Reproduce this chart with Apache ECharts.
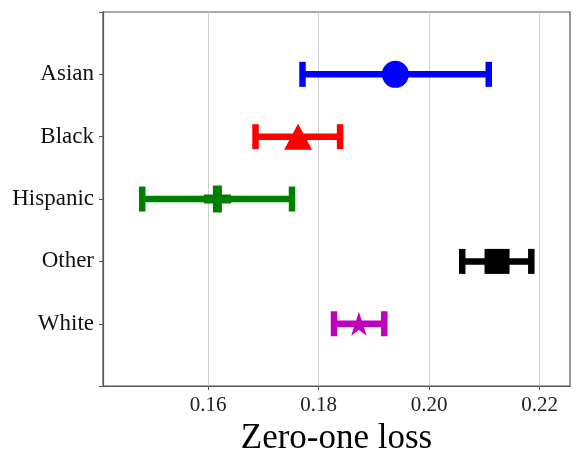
<!DOCTYPE html>
<html><head><meta charset="utf-8">
<script src="https://cdn.jsdelivr.net/npm/echarts@6/dist/echarts.min.js"></script>
<style>html,body{margin:0;padding:0;background:#fff}#c{width:578px;height:461px}</style>
</head><body><div id="c"></div>
<script>
var groups = ['Asian', 'Black', 'Hispanic', 'Other', 'White'];
var means = [0.1939, 0.1763, 0.1617, 0.2123, 0.1873];
var lower = [0.1771, 0.1686, 0.1481, 0.2060, 0.1828];
var upper = [0.2108, 0.1839, 0.1752, 0.2185, 0.1919];
var xTicks = [0.16, 0.18, 0.20, 0.22];
var colors = ['#0000ff', '#ff0000', '#008000', '#000000', '#bf00bf'];

var starPath = 'path://M0,-1L0.224,-0.308L0.951,-0.309L0.362,0.118L0.588,0.809L0,0.381L-0.588,0.809L-0.362,0.118L-0.951,-0.309L-0.224,-0.308Z';
var plusPath = 'path://M-1,-3H1V-1H3V1H1V3H-1V1H-3V-1H-1Z';
var symbols = ['circle', 'triangle', plusPath, 'rect', starPath];
var sizes = [27, [28, 26], 27, 25, [25, 24]];

var chart = echarts.init(document.getElementById('c'));
var errData = groups.map(function (g, i) { return [lower[i], upper[i], i]; });
var series = [{
  type: 'custom',
  data: errData,
  renderItem: function (params, api) {
    var i = api.value(2);
    var p1 = api.coord([api.value(0), i]);
    var p2 = api.coord([api.value(1), i]);
    var h = 12.5;
    var st = { stroke: colors[i], lineWidth: 6.5 };
    return { type: 'group', children: [
      { type: 'line', shape: { x1: p1[0], y1: p1[1], x2: p2[0], y2: p2[1] }, style: st },
      { type: 'line', shape: { x1: p1[0], y1: p1[1] - h, x2: p1[0], y2: p1[1] + h }, style: st },
      { type: 'line', shape: { x1: p2[0], y1: p2[1] - h, x2: p2[0], y2: p2[1] + h }, style: st }
    ]};
  },
  z: 2
}];
groups.forEach(function (g, i) {
  series.push({
    type: 'scatter', data: [[means[i], i]], symbol: symbols[i], symbolSize: sizes[i],
    itemStyle: { color: colors[i], opacity: 1 }, z: 3, silent: true
  });
});

chart.setOption({
  animation: false,
  grid: { left: 103, right: 8, top: 12, bottom: 74, show: true, borderColor: '#555', borderWidth: 1.2, backgroundColor: 'transparent' },
  xAxis: {
    type: 'value', min: 0.141, max: 0.2255,
    name: 'Zero-one loss', nameLocation: 'middle', nameGap: 33,
    nameTextStyle: { fontFamily: 'Liberation Serif', fontSize: 35, color: '#000' },
    axisLine: { show: true, onZero: false, lineStyle: { color: '#555', width: 1.2 } },
    axisTick: { show: true, length: 4, customValues: xTicks, lineStyle: { color: '#555' } },
    axisLabel: { customValues: xTicks, fontFamily: 'Liberation Serif', fontSize: 21, color: '#222', margin: 9,
      formatter: function (v) { return v.toFixed(2); } },
    splitLine: { show: true, lineStyle: { color: '#cfcfcf', width: 1 } }
  },
  yAxis: {
    type: 'value', min: -1, max: 5, interval: 1, inverse: true,
    axisLine: { show: true, onZero: false, lineStyle: { color: '#555', width: 1.2 } },
    axisTick: { show: true, length: 4, lineStyle: { color: '#555' } },
    axisLabel: { fontFamily: 'Liberation Serif', fontSize: 23, color: '#111', margin: 9,
      formatter: function (v) { return (v >= 0 && v < groups.length) ? groups[v] : ''; } },
    splitLine: { show: false }
  },
  series: series
});
</script></body></html>
